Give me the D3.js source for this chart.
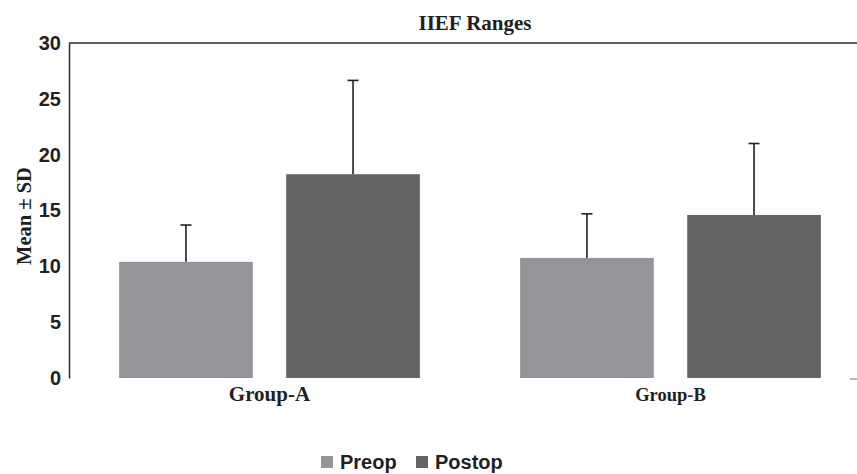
<!DOCTYPE html>
<html lang="en">
<head>
    <meta charset="UTF-8">
    <title>IIEF Ranges</title>
    <script src="https://d3js.org/d3.v7.min.js"></script>
    <style>
        body { margin: 0; background: #fff; }
        svg { display: block; }
    </style>
</head>
<body>
    <div class="chart"></div>
    <script>
        const groups = ['Group-A', 'Group-B'];
        const series = ['Preop', 'Postop'];
        const means = { Preop: [10.4, 10.75], Postop: [18.25, 14.6] };
        const sds = { Preop: [3.3, 3.95], Postop: [8.4, 6.4] };
        const yTicks = [0, 5, 10, 15, 20, 25, 30];
        const colors = ['#939598', '#636466'];

        const svgWidth = 857, svgHeight = 474;

        const svg = d3.select('.chart')
            .append('svg')
            .attr('width', svgWidth)
            .attr('height', svgHeight);

        const y = d3.scaleLinear().domain([0, 30]).range([378, 43]);

        const x0 = d3.scaleBand()
            .domain(groups)
            .range([69, 871])
            .paddingInner(0.25)
            .paddingOuter(0.125);

        const x1 = d3.scaleBand()
            .domain(series)
            .range([0, x0.bandwidth()])
            .paddingInner(0.2);

        const color = d3.scaleOrdinal().domain(series).range(colors);

        const rows = [];
        groups.forEach((g, i) => {
            series.forEach(s => rows.push({ group: g, series: s, mean: means[s][i], sd: sds[s][i] }));
        });

        // bars
        svg.selectAll('.bar')
            .data(rows)
            .enter()
            .append('rect')
            .attr('class', 'bar')
            .attr('x', d => x0(d.group) + x1(d.series))
            .attr('y', d => y(d.mean))
            .attr('width', x1.bandwidth())
            .attr('height', d => y(0) - y(d.mean))
            .attr('fill', d => color(d.series));

        // error bars (upper only)
        const err = svg.selectAll('.err')
            .data(rows)
            .enter()
            .append('g')
            .attr('class', 'err')
            .attr('stroke', '#231f20')
            .attr('stroke-width', 1.6);

        err.append('line')
            .attr('x1', d => x0(d.group) + x1(d.series) + x1.bandwidth() / 2)
            .attr('x2', d => x0(d.group) + x1(d.series) + x1.bandwidth() / 2)
            .attr('y1', d => y(d.mean))
            .attr('y2', d => y(d.mean + d.sd));

        err.append('line')
            .attr('x1', d => x0(d.group) + x1(d.series) + x1.bandwidth() / 2 - 5.5)
            .attr('x2', d => x0(d.group) + x1(d.series) + x1.bandwidth() / 2 + 5.5)
            .attr('y1', d => y(d.mean + d.sd))
            .attr('y2', d => y(d.mean + d.sd));

        // y axis
        const yAxis = svg.append('g')
            .attr('transform', 'translate(69,0)')
            .call(d3.axisLeft(y).tickValues(yTicks).tickSize(0).tickPadding(8));
        yAxis.select('.domain')
            .attr('stroke', '#2b2b2b')
            .attr('stroke-width', 1.5);
        yAxis.selectAll('text')
            .attr('font-family', 'Liberation Sans, Arial, sans-serif')
            .attr('font-weight', 'bold')
            .attr('font-size', 20)
            .attr('fill', '#231f20');

        // top frame line
        svg.append('line')
            .attr('x1', 69).attr('x2', svgWidth)
            .attr('y1', y(30)).attr('y2', y(30))
            .attr('stroke', '#2b2b2b')
            .attr('stroke-width', 1.5);

        // small tick at bottom right
        svg.append('line')
            .attr('x1', 850).attr('x2', svgWidth)
            .attr('y1', y(0) + 1).attr('y2', y(0) + 1)
            .attr('stroke', '#888')
            .attr('stroke-width', 1.2);

        // group labels
        svg.selectAll('.glabel')
            .data(groups)
            .enter()
            .append('text')
            .attr('class', 'glabel')
            .attr('x', d => x0(d) + x0.bandwidth() / 2)
            .attr('y', 401)
            .attr('text-anchor', 'middle')
            .attr('font-family', 'Liberation Serif, Times New Roman, serif')
            .attr('font-weight', 'bold')
            .attr('font-size', (d, i) => i === 0 ? 21 : 18.5)
            .attr('fill', '#231f20')
            .text(d => d);

        // title
        svg.append('text')
            .attr('x', 475)
            .attr('y', 30)
            .attr('text-anchor', 'middle')
            .attr('font-family', 'Liberation Serif, Times New Roman, serif')
            .attr('font-weight', 'bold')
            .attr('font-size', 21)
            .attr('fill', '#231f20')
            .text('IIEF Ranges');

        // y label
        svg.append('text')
            .attr('transform', 'translate(31,216) rotate(-90)')
            .attr('text-anchor', 'middle')
            .attr('font-family', 'Liberation Serif, Times New Roman, serif')
            .attr('font-weight', 'bold')
            .attr('font-size', 20.5)
            .attr('fill', '#231f20')
            .text('Mean \u00b1 SD');

        // legend
        const legendX = [321, 416];
        const legend = svg.selectAll('.legend')
            .data(series)
            .enter()
            .append('g')
            .attr('class', 'legend')
            .attr('transform', (d, i) => `translate(${legendX[i]},456)`);

        legend.append('rect')
            .attr('width', 12)
            .attr('height', 12)
            .attr('fill', d => color(d));

        legend.append('text')
            .attr('x', 19)
            .attr('y', 12.5)
            .attr('font-family', 'Liberation Sans, Arial, sans-serif')
            .attr('font-weight', 'bold')
            .attr('font-size', 20)
            .attr('fill', '#231f20')
            .text(d => d);
    </script>
</body>
</html>
